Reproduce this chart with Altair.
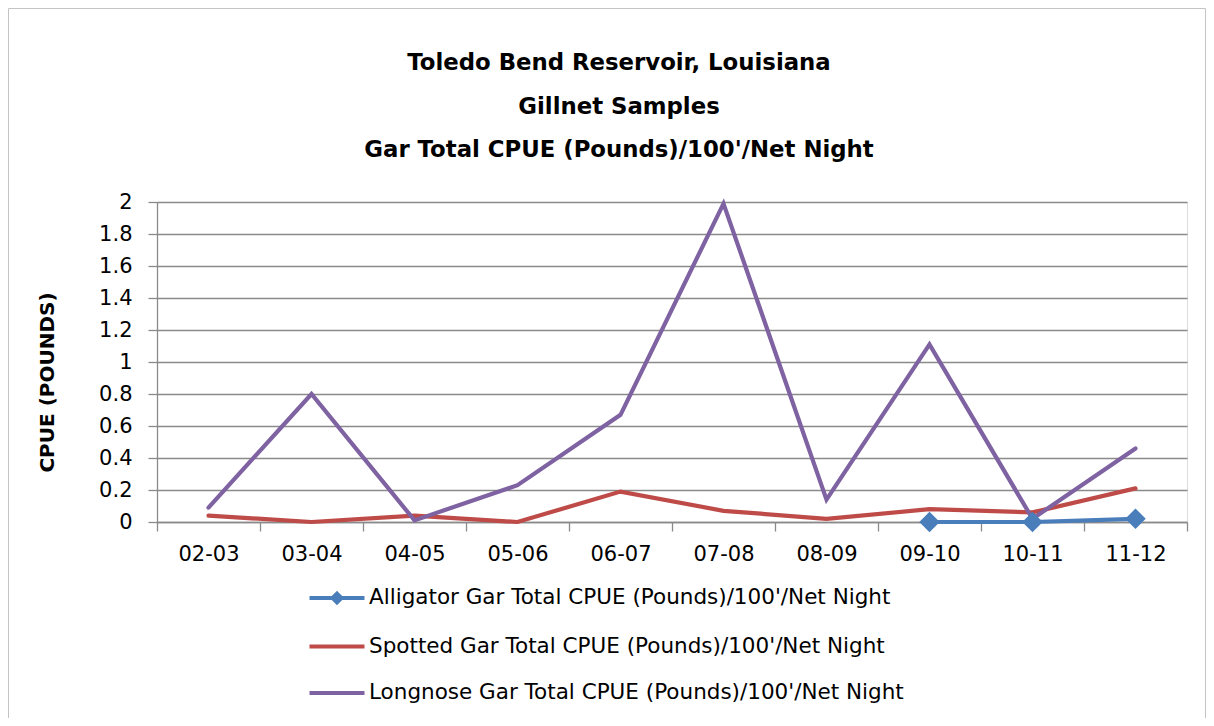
import altair as alt
import pandas as pd

# ---- data ----
years = ["02-03", "03-04", "04-05", "05-06", "06-07", "07-08", "08-09", "09-10", "10-11", "11-12"]
alligator = [None, None, None, None, None, None, None, 0.0, 0.0, 0.02]
spotted = [0.04, 0.0, 0.04, 0.0, 0.19, 0.07, 0.02, 0.08, 0.06, 0.21]
longnose = [0.09, 0.80, 0.01, 0.23, 0.67, 1.99, 0.14, 1.11, 0.02, 0.46]
series_names = [
    "Alligator Gar Total CPUE (Pounds)/100'/Net Night",
    "Spotted Gar Total CPUE (Pounds)/100'/Net Night",
    "Longnose Gar Total CPUE (Pounds)/100'/Net Night",
]
colors = ["#4A7EBB", "#BE4B48", "#7E62A1"]
y_ticks = [0, 0.2, 0.4, 0.6, 0.8, 1.0, 1.2, 1.4, 1.6, 1.8, 2.0]
title_lines = [
    "Toledo Bend Reservoir, Louisiana",
    "Gillnet Samples",
    "Gar Total CPUE (Pounds)/100'/Net Night",
]
y_title = "CPUE (POUNDS)"

rows = []
for name, vals in zip(series_names, [alligator, spotted, longnose]):
    for yr, v in zip(years, vals):
        rows.append({"series": name, "year": yr, "value": v})
df = pd.DataFrame(rows)

FONT = "DejaVu Sans"
GRID = "#8a8a8a"
W, H = 1030, 320

x_enc = alt.X("year:N", sort=years, scale=alt.Scale(paddingInner=0, paddingOuter=0),
              axis=alt.Axis(title=None, labelAngle=0, tickBand="extent", tickSize=9,
                            tickColor=GRID, tickWidth=1.3, domainColor=GRID, domainWidth=1.3,
                            labelFont=FONT, labelFontSize=21, labelColor="black",
                            labelPadding=12, grid=False))
y_enc = alt.Y("value:Q", scale=alt.Scale(domain=[0, 2], nice=False),
              axis=alt.Axis(values=y_ticks, tickCount=len(y_ticks), labelOverlap=False,
                            format=".1~f", title=y_title,
                            titleFont=FONT, titleFontSize=20, titleFontWeight="bold",
                            titleColor="black", titleAngle=270, titleX=-104, titleY=180,
                            titleAlign="center", titleBaseline="alphabetic",
                            labelFont=FONT, labelFontSize=21, labelColor="black",
                            labelPadding=16, tickSize=9, tickColor=GRID, tickWidth=1.3,
                            domainColor=GRID, domainWidth=1.3,
                            grid=True, gridColor=GRID, gridWidth=1.3))

sym_line = "M-2,0L2,0"
sym_diamond = "M-2,0L2,0M0,-0.32L0.32,0L0,0.32L-0.32,0Z"
leg = dict(orient="none", legendX=164, legendY=380, direction="vertical", title=None,
           labelFont=FONT, labelFontSize=21.5, labelColor="black", labelLimit=0,
           symbolSize=756, symbolStrokeWidth=4, labelOffset=16, rowPadding=19.5,
           symbolOpacity=1)

stroke_scale = alt.Scale(domain=series_names, range=colors)
fill_scale = alt.Scale(domain=series_names, range=[colors[0], "transparent", "transparent"])
shape_scale = alt.Scale(domain=series_names, range=[sym_diamond, sym_line, sym_line])

lines = alt.Chart(df).mark_line(strokeCap="round", strokeWidth=4.2).encode(
    x=x_enc, y=y_enc,
    stroke=alt.Stroke("series:N", scale=stroke_scale, legend=alt.Legend(**leg)),
)

diamonds = alt.Chart(df).transform_filter(
    alt.datum.series == series_names[0]
).transform_filter("isValid(datum.value)").mark_point(
    shape="diamond", filled=True, size=420, opacity=1
).encode(
    x=x_enc, y=y_enc,
    fill=alt.Fill("series:N", scale=fill_scale, legend=alt.Legend(**leg)),
)

legend_layer = alt.Chart(df).mark_point(
    filled=False, strokeWidth=4
).encode(
    x=x_enc, y=y_enc,
    stroke=alt.Stroke("series:N", scale=stroke_scale, legend=alt.Legend(**leg)),
    fill=alt.Fill("series:N", scale=fill_scale, legend=alt.Legend(**leg)),
    shape=alt.Shape("series:N", scale=shape_scale, legend=alt.Legend(**leg)),
    strokeOpacity=alt.value(0),
    fillOpacity=alt.value(0),
)

frame = alt.Chart(pd.DataFrame({"k": [0]})).mark_rect(
    filled=False, stroke="#c4c4c4", strokeWidth=1
).encode(x=alt.value(-148.5), x2=alt.value(1048.5), y=alt.value(-193.5), y2=alt.value(600))

chart = alt.layer(frame, lines, diamonds, legend_layer).properties(
    width=W, height=H,
    title=alt.Title(title_lines, font=FONT, fontSize=22.8, fontWeight="bold", color="black",
                    lineHeight=43.5, anchor="middle", frame="group", dx=-53, offset=-154),
    autosize=alt.AutoSizeParams(type="none"),
    padding={"left": 149, "top": 194, "right": 19, "bottom": 196},
).configure_view(stroke=None).configure(background="white")

chart.save("out.html", embed_options={"renderer": "svg", "actions": False})
